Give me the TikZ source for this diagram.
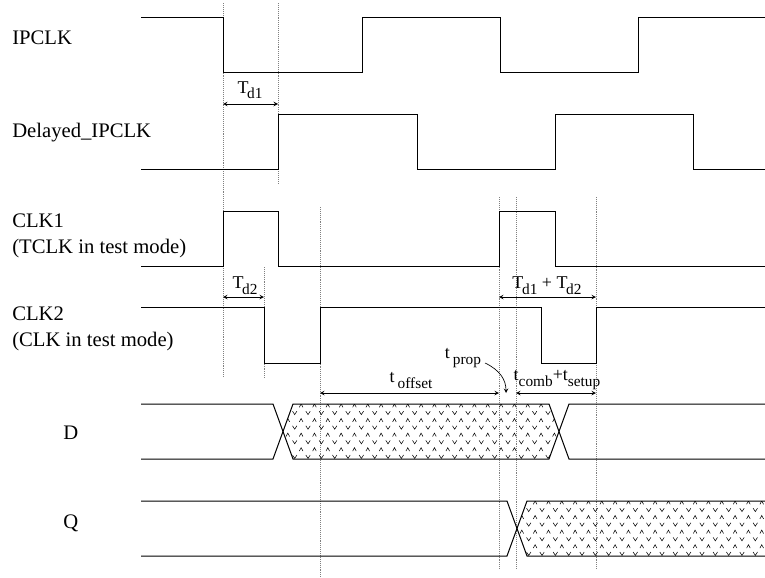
\documentclass[tikz,border=0pt]{standalone}
\usepackage{fontspec}
\setmainfont{Liberation Serif}
\usepackage{tikz}
\usetikzlibrary{arrows,calc}

\newcommand{\lo}[1]{\raisebox{-4.5pt}{\fontsize{11.5}{11.5}\selectfont #1}}

\begin{document}
\begin{tikzpicture}[x=0.75pt,y=-0.75pt,>=stealth,
    sig/.style={line width=0.75pt},
    guide/.style={densely dotted,gray,line width=0.45pt},
    dim/.style={<->,line width=0.5pt},
    hatch/.style={line width=0.4pt},
    signame/.style={anchor=base west,inner sep=0pt,align=left,font=\fontsize{15.5}{19.5}\selectfont},
    tlabel/.style={anchor=base,inner sep=0pt,font=\fontsize{13.5}{13.5}\selectfont}]
    \useasboundingbox (0,0) rectangle (765,578);

    % Signal names (base = last line)
    \node[signame] (ipclk) at (12,45) {IPCLK};
    \node[signame] (dipclk) at (12,137.5) {Delayed\_IPCLK};
    \node[signame] (clkone) at (12,253.5) {CLK1\\(TCLK in test mode)};
    \node[signame] (clktwo) at (12,346.5) {CLK2\\(CLK in test mode)};
    \node[signame] (dsig) at (63,439) {D};
    \node[signame] (qsig) at (63,528) {Q};

    % Guide lines
    \draw[guide] (223,3) -- (223,378);
    \draw[guide] (278,3) -- (278,184);
    \draw[guide] (264,267) -- (264,378);
    \draw[guide] (320,207) -- (320,578);
    \foreach \x in {499,516,596}
        \draw[guide] (\x,197) -- (\x,569);

    % Unknown data (hatched)
    \begin{scope}
        \clip (283,431.5) -- (293,404) -- (549,404) -- (559,431.5) -- (549,459) -- (293,459) -- cycle;
        \foreach \i in {0,...,3}
            \foreach \j in {0,...,20} {
                \draw[hatch] (286+13.33*\j,407.3+14.6*\i) -- ++(1.8,-3.4) -- ++(1.8,3.4);
                \draw[hatch] (292.5+13.33*\j,411.2+14.6*\i) -- ++(2.2,3.4) -- ++(2.2,-3.4);
            }
    \end{scope}
    \begin{scope}
        \clip (517,528.5) -- (527,501) -- (765,501) -- (765,556) -- (527,556) -- cycle;
        \foreach \i in {0,...,3}
            \foreach \j in {0,...,19} {
                \draw[hatch] (520+13.33*\j,504.3+14.6*\i) -- ++(1.8,-3.4) -- ++(1.8,3.4);
                \draw[hatch] (526.5+13.33*\j,508.2+14.6*\i) -- ++(2.2,3.4) -- ++(2.2,-3.4);
            }
    \end{scope}

    % Waveforms
    \draw[sig] (141,17) -| (223,72) -| (362,17) -| (500,72) -| (638,17) -- (765,17);
    \draw[sig] (141,169) -| (278,114) -| (417,169) -| (555,114) -| (693,169) -- (765,169);
    \draw[sig] (141,266) -| (223,211) -| (278,266) -| (499,211) -| (555,266) -- (765,266);
    \draw[sig] (141,307) -| (264,363) -| (320,307) -| (541,363) -| (596,307) -- (765,307);
    \draw[sig] (141,404) -- (273,404) -- (293,459) -- (549,459) -- (569,404) -- (765,404);
    \draw[sig] (141,459) -- (273,459) -- (293,404) -- (549,404) -- (569,459) -- (765,459);
    \draw[sig] (141,501) -- (507,501) -- (527,556) -- (765,556);
    \draw[sig] (141,556) -- (507,556) -- (527,501) -- (765,501);

    % Timing
    \draw[dim] (223,104) -- (278,104);
    \node[tlabel] (td1) at (250,93) {T\kern-1pt\lo{d1}};
    \draw[dim] (223,297) -- (264,297);
    \node[tlabel] (td2) at (245,288) {T\kern-1pt\lo{d2}};
    \draw[dim] (499,297) -- (596,297);
    \node[tlabel] (tsum) at (547,288) {T\kern-1pt\lo{d1} + T\kern-1pt\lo{d2}};
    \draw[dim] (320,393) -- (499,393);
    \node[tlabel] (toff) at (411,382) {t\,\lo{offset}};
    \draw[dim] (516,393) -- (596,393);
    \node[tlabel] (tcomb) at (557,380) {t\lo{comb}+t\lo{setup}};
    \node[tlabel] (tprop) at (463,358) {t\,\lo{prop}};
    \draw[->,line width=0.5pt] (485,363) .. controls (500,370) and (506,380) .. (506,393);
\end{tikzpicture}
\end{document}
